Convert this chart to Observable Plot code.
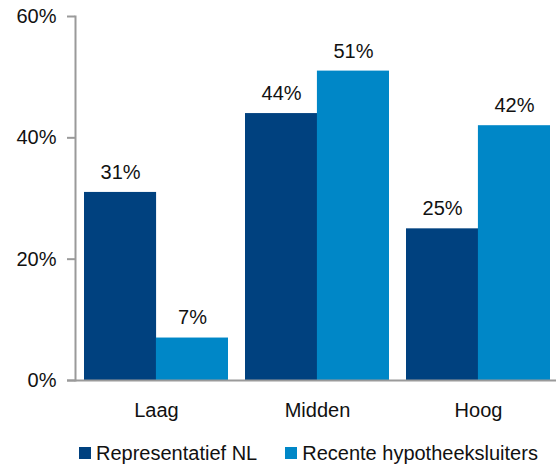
<!DOCTYPE html>
<html>
<head>
<meta charset="utf-8">
<script src="https://cdn.jsdelivr.net/npm/d3@7"></script>
<script src="https://cdn.jsdelivr.net/npm/@observablehq/plot@0.6"></script>
<style>
  html, body { margin: 0; padding: 0; background: #fff; overflow: hidden; }
  body { font-family: "Liberation Sans", Arial, sans-serif; }
  #chart svg { display: block; }
  .legend { display: flex; align-items: center; height: 30px; margin-top: 8px; margin-left: 79px; font-size: 20px; color: #111; white-space: nowrap; width: 520px; }
  .legend .item { display: flex; align-items: center; flex-shrink: 0; margin-right: 28px; }
  .legend .sw { width: 12px; height: 12px; margin-right: 5px; flex-shrink: 0; }
</style>
</head>
<body>
<div id="chart"></div>
<script>
// Income groups and the share (%) of each population in them
const categories = ["Laag", "Midden", "Hoog"];
const series = ["Representatief NL", "Recente hypotheeksluiters"];
const representatief = [31, 44, 25];
const recente = [7, 51, 42];
const yTicks = [0, 20, 40, 60];
const colors = ["#00417f", "#0087c7"];

const rows = categories.flatMap((c, i) => [
  {category: c, series: series[0], value: representatief[i]},
  {category: c, series: series[1], value: recente[i]}
]);

const xRange = [75, 559];
const padInner = 0.107;
const padOuter = 0.056;
const half = d3.scaleBand().domain(categories).range(xRange)
  .paddingInner(padInner).paddingOuter(padOuter).bandwidth() / 2;

const first = rows.filter(d => d.series === series[0]);
const second = rows.filter(d => d.series === series[1]);
const fmt = d => `${d}%`;
const axisGray = "#9a9a9a";

const chart = Plot.plot({
  width: 556,
  height: 430,
  marginTop: 16,
  marginBottom: 50,
  marginLeft: 75,
  marginRight: 0,
  style: {fontFamily: "Liberation Sans, Arial, sans-serif", fontSize: "20px", color: "#111", background: "#fff"},
  x: {domain: categories, range: xRange, paddingInner: padInner, paddingOuter: padOuter, label: null},
  y: {domain: [0, 60], label: null},
  marks: [
    Plot.barY(first, {x: "category", y: "value", fill: colors[0], insetLeft: 0, insetRight: half}),
    Plot.barY(second, {x: "category", y: "value", fill: colors[1], insetLeft: half, insetRight: 0}),
    Plot.text(first, {x: "category", y: "value", text: d => fmt(d.value), dx: -half / 2, dy: -20, fontSize: 20, fill: "#111"}),
    Plot.text(second, {x: "category", y: "value", text: d => fmt(d.value), dx: half / 2, dy: -20, fontSize: 20, fill: "#111"}),
    Plot.frame({anchor: "left", stroke: axisGray, strokeWidth: 2}),
    Plot.ruleY([0], {stroke: axisGray, strokeWidth: 2, insetLeft: -8}),
    Plot.axisY(yTicks, {tickSize: 8, tickPadding: 11, tickFormat: fmt, stroke: axisGray, strokeWidth: 2, strokeOpacity: 1, fill: "#111", fontSize: 20, label: null}),
    Plot.axisX({tickSize: 0, tickPadding: 22, fontSize: 20, fill: "#111", label: null})
  ]
});

document.getElementById("chart").appendChild(chart);

// Legend below the plot
const legend = document.createElement("div");
legend.className = "legend";
series.forEach((s, i) => {
  const item = document.createElement("div");
  item.className = "item";
  const sw = document.createElement("span");
  sw.className = "sw";
  sw.style.background = colors[i];
  const label = document.createElement("span");
  label.textContent = s;
  item.append(sw, label);
  legend.appendChild(item);
});
document.getElementById("chart").appendChild(legend);
</script>
</body>
</html>
